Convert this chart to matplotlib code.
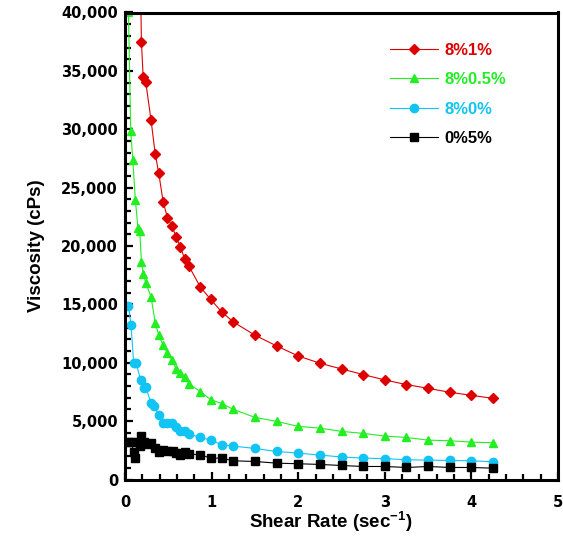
import matplotlib
matplotlib.use("Agg")
import matplotlib.pyplot as plt
from matplotlib.ticker import MultipleLocator, StrMethodFormatter

plt.rcParams["font.family"] = ["Liberation Sans", "DejaVu Sans"]
plt.rcParams["font.weight"] = "bold"
plt.rcParams["mathtext.fontset"] = "custom"
plt.rcParams["mathtext.rm"] = "Liberation Sans"
plt.rcParams["mathtext.bf"] = "Liberation Sans:bold"

# viscosity (cPs) vs shear rate (1/s) for each blend
red_x = [0.17, 0.19, 0.21, 0.24, 0.30, 0.35, 0.39, 0.44, 0.49, 0.54, 0.59, 0.64, 0.69, 0.74,
         0.87, 0.99, 1.12, 1.25, 1.50, 1.75, 2.00, 2.25, 2.50, 2.75, 3.00, 3.25, 3.50, 3.75,
         4.00, 4.25]
red_y = [46000, 37450, 34450, 34020, 30815, 27840, 26220, 23800, 22430, 21730, 20780, 19940,
         18860, 18250, 16480, 15420, 14330, 13500, 12360, 11440, 10580, 9960, 9470, 8990,
         8525, 8130, 7810, 7470, 7210, 6950]

green_x = [0.04, 0.066, 0.09, 0.12, 0.15, 0.17, 0.19, 0.21, 0.24, 0.30, 0.35, 0.39, 0.44,
           0.49, 0.54, 0.59, 0.64, 0.69, 0.74, 0.87, 0.99, 1.12, 1.25, 1.50, 1.75, 2.00,
           2.25, 2.50, 2.75, 3.00, 3.25, 3.50, 3.75, 4.00, 4.25]
green_y = [40000, 29870, 27370, 23900, 21520, 21290, 18630, 17620, 16840, 15660, 13390,
           12360, 11500, 10820, 10270, 9500, 9120, 8760, 8180, 7530, 6840, 6500, 6010, 5320,
           4980, 4550, 4400, 4120, 3950, 3720, 3600, 3370, 3320, 3200, 3150]

blue_x = [0.04, 0.07, 0.10, 0.13, 0.18, 0.22, 0.24, 0.30, 0.34, 0.39, 0.44, 0.49, 0.54,
          0.59, 0.64, 0.69, 0.74, 0.87, 0.99, 1.12, 1.25, 1.50, 1.75, 2.00, 2.25, 2.50,
          2.75, 3.00, 3.25, 3.50, 3.75, 4.00, 4.25]
blue_y = [14880, 13220, 9950, 9950, 8520, 7800, 7920, 6550, 6330, 5490, 4870, 4870, 4870,
          4460, 4120, 4180, 3890, 3600, 3370, 2970, 2860, 2660, 2400, 2260, 2090, 1930,
          1830, 1790, 1690, 1660, 1630, 1600, 1520]

black_x = [0.05, 0.07, 0.10, 0.12, 0.15, 0.17, 0.19, 0.22, 0.25, 0.30, 0.35, 0.39, 0.44,
           0.49, 0.55, 0.59, 0.64, 0.69, 0.74, 0.87, 0.99, 1.12, 1.25, 1.50, 1.75, 2.00,
           2.25, 2.50, 2.75, 3.00, 3.25, 3.50, 3.75, 4.00, 4.25]
black_y = [3200, 3250, 2340, 1830, 3200, 2830, 3690, 3200, 3030, 3120, 2690, 2340, 2550,
           2400, 2400, 2260, 2120, 2320, 2170, 2120, 1830, 1830, 1600, 1545, 1400, 1350,
           1290, 1200, 1115, 1115, 1030, 1115, 1030, 1030, 970]

fig = plt.figure(figsize=(5.63, 5.38), dpi=100)
ax = fig.add_axes([125 / 563, 1 - 479.5 / 538, 433 / 563, 467 / 538])

ax.plot(red_x, red_y, color="#dd0000", lw=0.8, marker="D", ms=5.5, label="8%1%")
ax.plot(green_x, green_y, color="#22ee22", lw=0.8, marker="^", ms=6, label="8%0.5%")
ax.plot(blue_x, blue_y, color="#11c4f4", lw=0.8, marker="o", ms=6, label="8%0%")
ax.plot(black_x, black_y, color="black", lw=0.8, marker="s", ms=6, label="0%5%")

ax.set_xlim(0, 5)
ax.set_ylim(0, 40000)
ax.xaxis.set_major_locator(MultipleLocator(1))
ax.xaxis.set_minor_locator(MultipleLocator(0.2))
ax.yaxis.set_major_locator(MultipleLocator(5000))
ax.yaxis.set_minor_locator(MultipleLocator(1000))
ax.yaxis.set_major_formatter(StrMethodFormatter("{x:,.0f}"))

for side in ["left", "right", "top", "bottom"]:
    ax.spines[side].set_linewidth(2.2)
ax.tick_params(which="both", direction="in", width=1.6)
ax.tick_params(which="major", length=6)
ax.tick_params(which="minor", length=4)
ax.tick_params(axis="x", pad=11)
ax.tick_params(axis="y", pad=5)
for lab in ax.get_xticklabels() + ax.get_yticklabels():
    lab.set_fontfamily("DejaVu Sans")
    lab.set_fontweight("bold")
    lab.set_fontsize(10.5)

ax.set_xlabel(r"Shear Rate (sec$^{\mathbf{-1}}$)", fontsize=13.5, fontweight="bold")
ax.xaxis.set_label_coords(0.476, -0.064)
ax.set_ylabel("Viscosity (cPs)", fontsize=13.5, fontweight="bold", labelpad=12)

ax.legend(loc="upper left", bbox_to_anchor=(390 / 563, 1 - 43 / 538),
          bbox_transform=fig.transFigure, frameon=False, numpoints=1,
          prop={"size": 12, "weight": "bold"}, labelcolor="linecolor",
          handlelength=2.9, handletextpad=0.35, labelspacing=0.86,
          borderpad=0, borderaxespad=0)

fig.savefig("out.png", dpi=100)
